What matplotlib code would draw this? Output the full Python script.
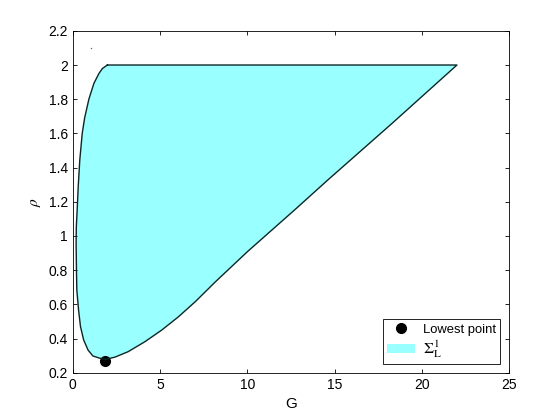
import numpy as np
import matplotlib.pyplot as plt
from matplotlib.patches import Patch
from matplotlib.lines import Line2D

plt.rcParams['font.family'] = ['Liberation Sans', 'DejaVu Sans']
plt.rcParams['mathtext.fontset'] = 'stix'

# left branch of the boundary, top -> bottom
left_G = [1.98, 1.7, 1.5, 1.21, 0.92, 0.675, 0.54, 0.4, 0.31, 0.25, 0.2, 0.19, 0.21, 0.23, 0.33,
          0.44, 0.62, 0.87, 1.15, 1.54, 1.87]
left_rho = [2.0, 1.98, 1.951, 1.893, 1.8, 1.689, 1.6, 1.444, 1.288, 1.152, 1.05, 0.95, 0.8, 0.684, 0.567,
            0.47, 0.392, 0.333, 0.298, 0.285, 0.278]

# right branch, bottom -> top
right_G = [1.87, 2.41, 3.17, 4.14, 5.1, 6.06, 7.02, 8.18, 10.0, 12.7, 14.6, 18.3, 22.0]
right_rho = [0.278, 0.291, 0.323, 0.382, 0.450, 0.528, 0.616, 0.733, 0.908, 1.152, 1.327, 1.66, 2.0]

lowest_G, lowest_rho = 1.85, 0.271

xticks = [0, 5, 10, 15, 20, 25]
yticks = [0.2, 0.4, 0.6, 0.8, 1.0, 1.2, 1.4, 1.6, 1.8, 2.0, 2.2]
ytick_labels = ['0.2', '0.4', '0.6', '0.8', '1', '1.2', '1.4', '1.6', '1.8', '2', '2.2']

G = np.array(left_G + right_G[1:])
rho = np.array(left_rho + right_rho[1:])

fig = plt.figure(figsize=(5.6, 4.2), dpi=100)
ax = fig.add_axes([0.13, 0.1126, 0.7795, 0.814])

ax.plot([1.02], [2.1], 'o', color='0.4', ms=1, mew=0)
ax.plot(lowest_G, lowest_rho, 'o', color='k', ms=7)
ax.fill(G, rho, facecolor='cyan', alpha=0.4, edgecolor='none')
ax.plot(np.append(G, G[0]), np.append(rho, rho[0]), color='#0d2626', lw=1, solid_joinstyle='round')

ax.set_xlim(0, 25)
ax.set_ylim(0.2, 2.2)
ax.set_xticks(xticks)
ax.set_yticks(yticks)
ax.set_yticklabels(ytick_labels)
ax.tick_params(direction='in', top=True, right=True, labelsize=10, length=3, width=0.6)
for s in ax.spines.values():
    s.set_linewidth(0.6)

ax.set_xlabel('G', fontsize=11)
ax.set_ylabel(r'$\rho$', fontsize=11)

handles = [Line2D([], [], marker='o', color='k', ls='none', ms=7),
           Patch(facecolor='cyan', alpha=0.4, edgecolor='none')]
leg = ax.legend(handles, ['Lowest point', r'$\Sigma_{\mathrm{L}}^{1}$'], loc='lower right',
                fancybox=False, edgecolor='k', framealpha=1, fontsize=9.4,
                borderaxespad=0.7, handlelength=2.2, handletextpad=0.6,
                borderpad=0.3, labelspacing=0.2)
leg.get_texts()[1].set_fontsize(11.5)
leg.get_frame().set_linewidth(0.6)

fig.savefig('out.png', dpi=100)
